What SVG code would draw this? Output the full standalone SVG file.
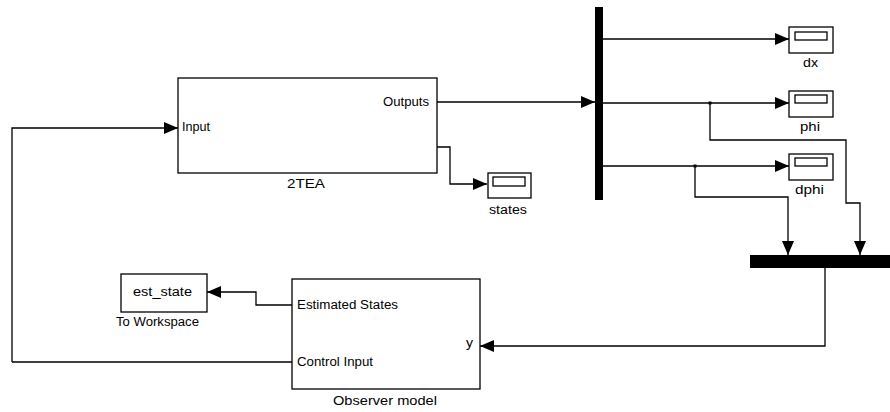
<svg xmlns="http://www.w3.org/2000/svg" width="890" height="412" viewBox="0 0 890 412">
<style>
.blk{fill:#fff;stroke:#000;stroke-width:1.3}
.ln{fill:none;stroke:#000;stroke-width:1.3}
.t{font-family:"Liberation Sans",Arial,sans-serif;font-size:12.5px;fill:#000}
.m{text-anchor:middle}
.e{text-anchor:end}
</style>
<defs>
<marker id="ar" markerUnits="userSpaceOnUse" markerWidth="14" markerHeight="12" refX="14" refY="6" orient="auto">
<path d="M0,0 L14,6 L0,12 Z" fill="#000"/>
</marker>
</defs>
<rect width="890" height="412" fill="#fff"/>
<g id="connectors">
<path class="ln" d="M12,362 L12,128 L178,128" marker-end="url(#ar)"/>
<path class="ln" d="M437,102 L595,102" marker-end="url(#ar)"/>
<path class="ln" d="M437,147 L450,147 L450,184 L487,184" marker-end="url(#ar)"/>
<path class="ln" d="M603,39 L789,39" marker-end="url(#ar)"/>
<path class="ln" d="M603,103 L789,103" marker-end="url(#ar)"/>
<path class="ln" d="M603,166 L789,166" marker-end="url(#ar)"/>
<path class="ln" d="M710,103 L710,140 L846,140 L846,203 L860,203 L860,255" marker-end="url(#ar)"/>
<path class="ln" d="M695,166 L695,197 L788,197 L788,255" marker-end="url(#ar)"/>
<path class="ln" d="M825,268 L825,346 L480,346" marker-end="url(#ar)"/>
<path class="ln" d="M292,305 L256,305 L256,292 L207,292" marker-end="url(#ar)"/>
<path class="ln" d="M292,362 L12,362"/>
<rect x="708.5" y="101.5" width="3" height="3" fill="#000"/>
<rect x="693.5" y="164.5" width="3" height="3" fill="#000"/>
</g>
<g id="tea">
<rect class="blk" x="178" y="78" width="259" height="95"/>
<text class="t" x="182" y="131" textLength="28" lengthAdjust="spacingAndGlyphs">Input</text>
<text class="t" x="383" y="106" textLength="46" lengthAdjust="spacingAndGlyphs">Outputs</text>
<text class="t" x="287" y="188" textLength="38" lengthAdjust="spacingAndGlyphs">2TEA</text>
</g>
<g id="bus">
<rect x="595" y="7" width="8" height="193" fill="#000"/>
</g>
<g id="dx">
<rect class="blk" x="789" y="27" width="44" height="26"/>
<rect class="blk" x="795" y="32" width="32" height="8"/>
<text class="t" x="803" y="67" textLength="15" lengthAdjust="spacingAndGlyphs">dx</text>
</g>
<g id="phi">
<rect class="blk" x="789" y="91" width="44" height="26"/>
<rect class="blk" x="795" y="95" width="32" height="8"/>
<text class="t" x="800" y="131" textLength="20" lengthAdjust="spacingAndGlyphs">phi</text>
</g>
<g id="dphi">
<rect class="blk" x="789" y="154" width="44" height="26"/>
<rect class="blk" x="795" y="158" width="32" height="8"/>
<text class="t" x="795" y="194" textLength="29" lengthAdjust="spacingAndGlyphs">dphi</text>
</g>
<g id="states">
<rect class="blk" x="488" y="173" width="43" height="25"/>
<rect class="blk" x="493" y="177" width="32" height="9"/>
<text class="t" x="489" y="214" textLength="38" lengthAdjust="spacingAndGlyphs">states</text>
</g>
<g id="mux">
<rect x="750" y="255" width="140" height="13" fill="#000"/>
</g>
<g id="observer">
<rect class="blk" x="292" y="279" width="188" height="110"/>
<text class="t" x="297" y="309" textLength="101" lengthAdjust="spacingAndGlyphs">Estimated States</text>
<text class="t" x="297" y="366" textLength="76" lengthAdjust="spacingAndGlyphs">Control Input</text>
<text class="t" x="466" y="347" textLength="7" lengthAdjust="spacingAndGlyphs">y</text>
<text class="t" x="333" y="405" textLength="104" lengthAdjust="spacingAndGlyphs">Observer model</text>
</g>
<g id="est_state">
<rect class="blk" x="121" y="274" width="86" height="38"/>
<text class="t" x="133" y="296" textLength="59" lengthAdjust="spacingAndGlyphs">est_state</text>
<text class="t" x="116" y="326" textLength="83" lengthAdjust="spacingAndGlyphs">To Workspace</text>
</g>
</svg>
